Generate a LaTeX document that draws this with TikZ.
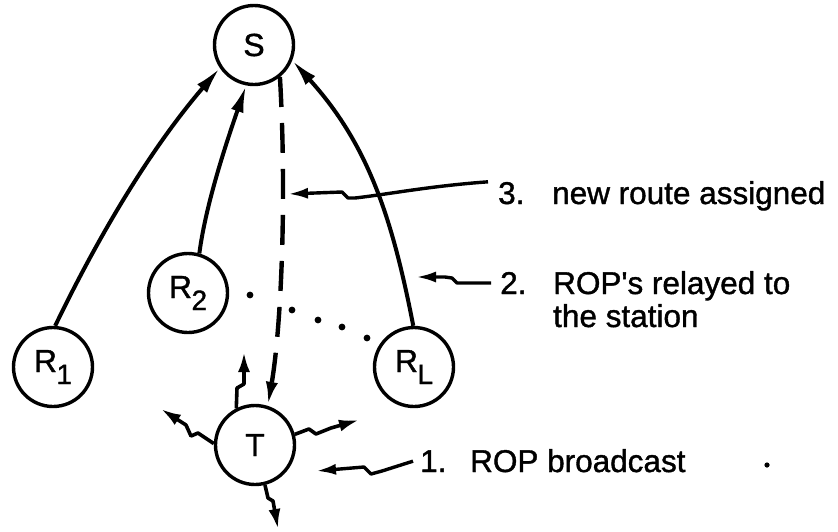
\documentclass[tikz,border=0pt]{standalone}
\usepackage{fontspec}
\setmainfont{Liberation Sans}[RawFeature={embolden=1.2}]
\usetikzlibrary{arrows.meta,calc}
\newcommand{\Rsub}[1]{R\kern-0.5pt\raisebox{-12pt}{\fontsize{28}{30}\selectfont#1}}
\begin{document}
\begin{tikzpicture}[x=1pt,y=-1pt,
  circ/.style={circle,draw,line width=3.4pt,minimum size=79pt,inner sep=0pt,font=\fontsize{32}{34}\selectfont},
  edge/.style={line width=4pt,-{Latex[length=27pt,width=13pt]}},
  bc/.style={line width=3.6pt,line join=round,-{Latex[length=20pt,width=12pt]}},
  lab/.style={line width=3.4pt,line join=round,-{Latex[length=20pt,width=11pt]}},
  lbl/.style={font=\fontsize{31.5}{34}\selectfont,anchor=base west,inner sep=0pt},
  dot/.style={fill=black}
]
\useasboundingbox (0,0) rectangle (838,531);
% nodes
\node[circ] (S) at (254,45) {S};
\node[circ] (R1) at (53,367) {\Rsub{1}};
\node[circ] (R2) at (188,293) {\Rsub{2}};
\node[circ] (RL) at (414,367) {\Rsub{L}};
\node[circ] (T) at (255,445) {T};
% relay edges
\draw[edge] (R1.87) .. controls (99,235) and (151,148) .. (S.-146);
\draw[edge] (R2.74) .. controls (206,202) and (229,135) .. (S.-101);
\draw[edge] (RL.91) .. controls (392,217) and (368,144) .. (S.-22);
% new route (dashed)
\draw[line width=4.4pt,dash pattern=on 30pt off 16pt,-{Latex[length=24pt,width=12pt]}]
  (S.-51) .. controls (287,200) and (281,330) .. (T.72);
% dots between R2 and RL
\fill[dot] (250,295) circle (3.4pt);
\fill[dot] (292,310) circle (3.4pt);
\fill[dot] (318,320) circle (3.4pt);
\fill[dot] (342,327) circle (3.4pt);
\fill[dot] (367,338) circle (3.4pt);
% broadcast arrows from T
\coordinate (bu) at (244,352);
\coordinate (bl) at (161,409);
\coordinate (br) at (359,420);
\coordinate (bd) at (278,529);
\draw[bc] (T.117) -- (237,388) -- (244,384) -- (bu);
\draw[bc] (T.178) -- (198,433) -- (191,436) -- (186,425) -- (bl);
\draw[bc] (T.15) -- (309,429) -- (316,434) -- (331,428) -- (br);
\draw[bc] (T.-76) -- (268,498) -- (273,501) -- (bd);
% labels
\node[lbl] (n3) at (498,204) {3.};
\node[lbl] (t3) at (552,204) {new route assigned};
\node[lbl] (n2) at (500,294) {2.};
\node[lbl] (t2) at (553,294) {ROP\textquotesingle s relayed to};
\node[lbl] (t2b) at (553,327) {the station};
\node[lbl] (n1) at (420,472) {1.};
\node[lbl] (t1) at (470,472) {ROP broadcast};
\fill[dot] (767,465) circle (2.6pt);
% label pointers
\coordinate (p3) at (288,194);
\coordinate (p2) at (416,277);
\coordinate (p1) at (316,471);
\draw[lab] ([xshift=-10pt]n3.north west) .. controls (430,186) and (390,194) .. (355,198) -- (348,198) -- (342,192) -- (p3);
\draw[lab] ([xshift=-9pt]n2.west) -- (457,283) -- (452,278) -- (445,277) -- (p2);
\draw[lab] ([xshift=-7pt]n1.west) -- (382,471) -- (371,474) -- (364,467) -- (p1);
\end{tikzpicture}
\end{document}
